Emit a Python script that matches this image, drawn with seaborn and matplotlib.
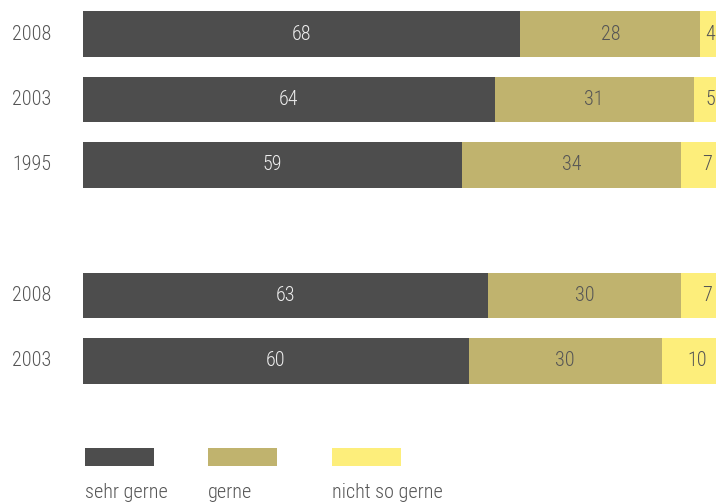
import matplotlib
matplotlib.use("Agg")
import matplotlib.pyplot as plt
from matplotlib.patches import Rectangle
from matplotlib import font_manager
import pandas as pd
import seaborn as sns

# Survey shares (percent) per year, two groups of rows
years = ["2008", "2003", "1995", "2008", "2003"]
group = [0, 0, 0, 1, 1]
sehr_gerne = [68, 64, 59, 63, 60]
gerne = [28, 31, 34, 30, 30]
nicht_so_gerne = [4, 5, 7, 7, 10]
categories = ["sehr gerne", "gerne", "nicht so gerne"]

colors = ["#4d4d4d", "#c0b36e", "#fdee7b"]
label_colors = ["#eeeeee", "#555555", "#555555"]
text_color = "#555555"

sns.set_theme(style="white")
names = {f.name for f in font_manager.fontManager.ttflist}
preferred = ["Liberation Sans Narrow", "Roboto Condensed", "Open Sans Condensed",
             "Arial Narrow", "Noto Sans Condensed", "DejaVu Sans Condensed", "Roboto"]
available = [n for n in preferred if n in names]
family = available[0] if available else "DejaVu Sans"
plt.rcParams["font.family"] = [family, "DejaVu Sans"]
narrow = family not in ("Roboto", "DejaVu Sans")
fs = 14.5 if narrow else 12.5
weight = "light"

# Row positions: rows within a group are consecutive, one empty slot between groups
pos = [i + g for i, g in enumerate(group)]

df = pd.DataFrame({
    "year": years,
    "pos": pos,
    "s1": sehr_gerne,
    "s2": gerne,
    "s3": nicht_so_gerne,
})
df["c1"] = df["s1"]
df["c2"] = df["s1"] + df["s2"]
df["c3"] = df["c2"] + df["s3"]

W, H = 716, 504
fig = plt.figure(figsize=(W / 100, H / 100), dpi=100)
x0_px, top_px, bottom_px = 83, 0, 420
ax = fig.add_axes([x0_px / W, 1 - bottom_px / H, 1 - x0_px / W, (bottom_px - top_px) / H])

# Stacked bars drawn as cumulative totals, widest first
for col, color in zip(["c3", "c2", "c1"], colors[::-1]):
    sns.barplot(data=df, x=col, y="pos", orient="y", native_scale=True,
                color=color, width=0.7, saturation=1, ax=ax, errorbar=None,
                linewidth=0, edgecolor=color)

px_per_unit = 6.43
row_px = 65.4
ax.set_xlim(0, (W - x0_px) / px_per_unit)
ax.set_ylim((bottom_px - 34) / row_px, -34 / row_px)
ax.axis("off")

xmax = ax.get_xlim()[1]
for _, r in df.iterrows():
    starts = [0, r["c1"], r["c2"]]
    vals = [r["s1"], r["s2"], r["s3"]]
    for k in range(3):
        cx = starts[k] + vals[k] / 2
        if k == 2:
            half = 0.75 * len(str(vals[k])) + 0.1
            cx = min(cx + 0.5, xmax - half)
        ax.text(cx, r["pos"], f"{vals[k]}", ha="center", va="center",
                fontsize=fs, fontweight=weight, color=label_colors[k])
    ax.text(-71 / px_per_unit, r["pos"], r["year"], ha="left", va="center",
            fontsize=fs, fontweight=weight, color=text_color, clip_on=False)

# Legend: swatches with labels underneath
legend_x = [85, 208, 332]
for lx, color, name in zip(legend_x, colors, categories):
    fig.add_artist(Rectangle((lx / W, 1 - 466 / H), 69 / W, 18 / H,
                             transform=fig.transFigure, color=color, lw=0))
    fig.text(lx / W, 1 - 493 / H, name, ha="left", va="center",
             fontsize=fs, fontweight=weight, color=text_color)

fig.savefig("out.png", dpi=100)
